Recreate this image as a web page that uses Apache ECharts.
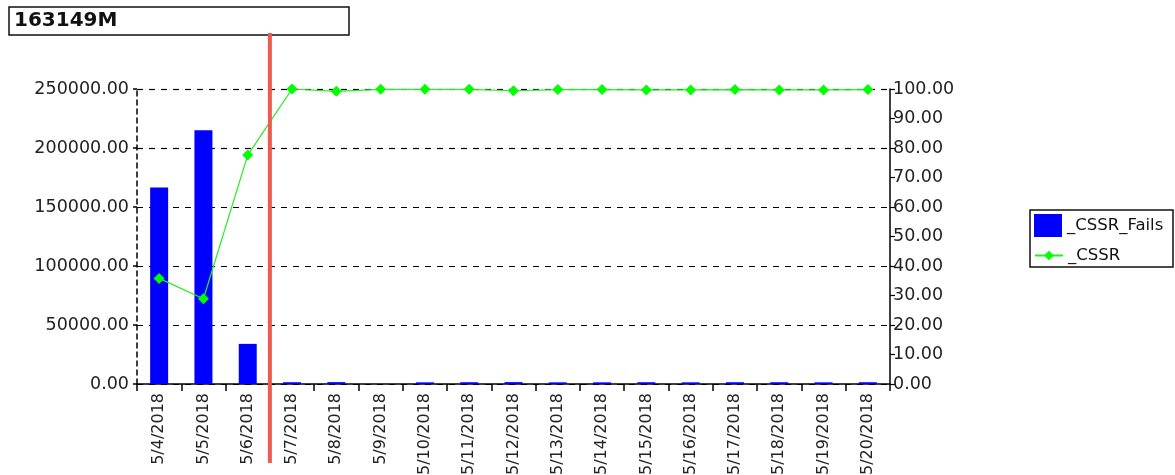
<!DOCTYPE html>
<html>
<head>
<meta charset="utf-8">
<script src="https://cdn.jsdelivr.net/npm/echarts@6/dist/echarts.min.js"></script>
<style>
  html, body { margin: 0; padding: 0; background: #fff; }
  #chart { width: 1175px; height: 475px; }
</style>
</head>
<body>
<div id="chart"></div>
<script>
const titleText = '163149M';
const categories = ['5/4/2018','5/5/2018','5/6/2018','5/7/2018','5/8/2018','5/9/2018','5/10/2018','5/11/2018','5/12/2018','5/13/2018','5/14/2018','5/15/2018','5/16/2018','5/17/2018','5/18/2018','5/19/2018','5/20/2018'];
const cssrFails = [166500, 215000, 34000, 1500, 1600, 0, 1400, 1500, 1600, 1400, 1400, 1500, 1400, 1500, 1500, 1400, 1500];
const cssr = [35.8, 28.9, 77.6, 100.0, 99.2, 99.9, 99.9, 99.9, 99.4, 99.8, 99.8, 99.7, 99.7, 99.8, 99.7, 99.7, 99.8];
const leftTicks = { min: 0, max: 250000, interval: 50000 };
const rightTicks = { min: 0, max: 100, interval: 10 };
const markerBetween = ['5/6/2018', '5/7/2018'];

const FONT = 'DejaVu Sans';
const chart = echarts.init(document.getElementById('chart'));

const option = {
  animation: false,
  backgroundColor: '#fff',
  grid: { left: 137, right: 285, top: 89, bottom: 91, containLabel: false, outerBoundsMode: 'none' },
  legend: [
    {
      data: [{ name: '_CSSR_Fails', icon: 'rect' }], left: 1034, top: 214, padding: 0,
      itemWidth: 28, itemHeight: 23, itemGap: 4,
      textStyle: { fontFamily: FONT, fontSize: 16.5, color: '#111' }
    },
    {
      data: ['_CSSR'], left: 1034, top: 247, padding: 0,
      itemWidth: 28, itemHeight: 12, itemGap: 4,
      textStyle: { fontFamily: FONT, fontSize: 16.5, color: '#111' }
    }
  ],
  xAxis: {
    type: 'category',
    data: categories,
    boundaryGap: true,
    axisLine: { lineStyle: { color: '#000', width: 1.5 } },
    axisTick: { show: true, length: 7, alignWithLabel: false, lineStyle: { color: '#000', width: 1.5 } },
    axisLabel: { rotate: 90, interval: 0, fontFamily: FONT, fontSize: 16, color: '#222', margin: 9 },
    splitLine: { show: false }
  },
  yAxis: [
    {
      type: 'value', min: leftTicks.min, max: leftTicks.max, interval: leftTicks.interval,
      axisLine: { show: true, lineStyle: { color: '#000', width: 1.5, type: [5, 4] } },
      axisTick: { show: true, length: 4, lineStyle: { color: '#000', width: 1.5 } },
      axisLabel: { fontFamily: FONT, fontSize: 17.5, color: '#222', margin: 8,
        formatter: v => v.toFixed(2) },
      splitLine: { show: true, lineStyle: { color: '#000', width: 1.2, type: [6, 6] } }
    },
    {
      type: 'value', min: rightTicks.min, max: rightTicks.max, interval: rightTicks.interval,
      position: 'right',
      axisLine: { show: true, lineStyle: { color: '#000', width: 1.5 } },
      axisTick: { show: true, length: 5, inside: false, lineStyle: { color: '#000', width: 1.2 } },
      axisLabel: { fontFamily: FONT, fontSize: 17.5, color: '#222', margin: 3,
        formatter: v => v.toFixed(2) },
      splitLine: { show: false }
    }
  ],
  series: [
    {
      name: '_CSSR_Fails', type: 'bar', data: cssrFails, yAxisIndex: 0,
      barWidth: 18, itemStyle: { color: '#0000ff' }, z: 2
    },
    {
      name: '_CSSR', type: 'line', data: cssr, yAxisIndex: 1,
      symbol: 'diamond', symbolSize: 11,
      lineStyle: { color: '#22ee22', width: 1.2 },
      itemStyle: { color: '#00ff00' }, z: 3
    }
  ]
};
chart.setOption(option);

function drawOverlay() {
  const a = chart.convertToPixel({ xAxisIndex: 0 }, markerBetween[0]);
  const b = chart.convertToPixel({ xAxisIndex: 0 }, markerBetween[1]);
  const x = (a + b) / 2;
  chart.setOption({
    graphic: [
      { type: 'rect', shape: { x: 9, y: 7, width: 340, height: 28 },
        style: { fill: '#fff', stroke: '#111', lineWidth: 1.5 }, z: 10 },
      { type: 'text', x: 14, y: 21, z: 11,
        style: { text: titleText, fontFamily: FONT, fontWeight: 'bold', fontSize: 20,
          fill: '#111', textVerticalAlign: 'middle', verticalAlign: 'middle' } },
      { type: 'rect', shape: { x: 1030, y: 210, width: 143, height: 57 },
        style: { fill: 'none', stroke: '#111', lineWidth: 1.5 }, z: 10 },
      { type: 'line', shape: { x1: x, y1: 33, x2: x, y2: 463 },
        style: { stroke: '#ee5a50', lineWidth: 4 }, z: 20 }
    ]
  });
}
drawOverlay();
</script>
</body>
</html>
